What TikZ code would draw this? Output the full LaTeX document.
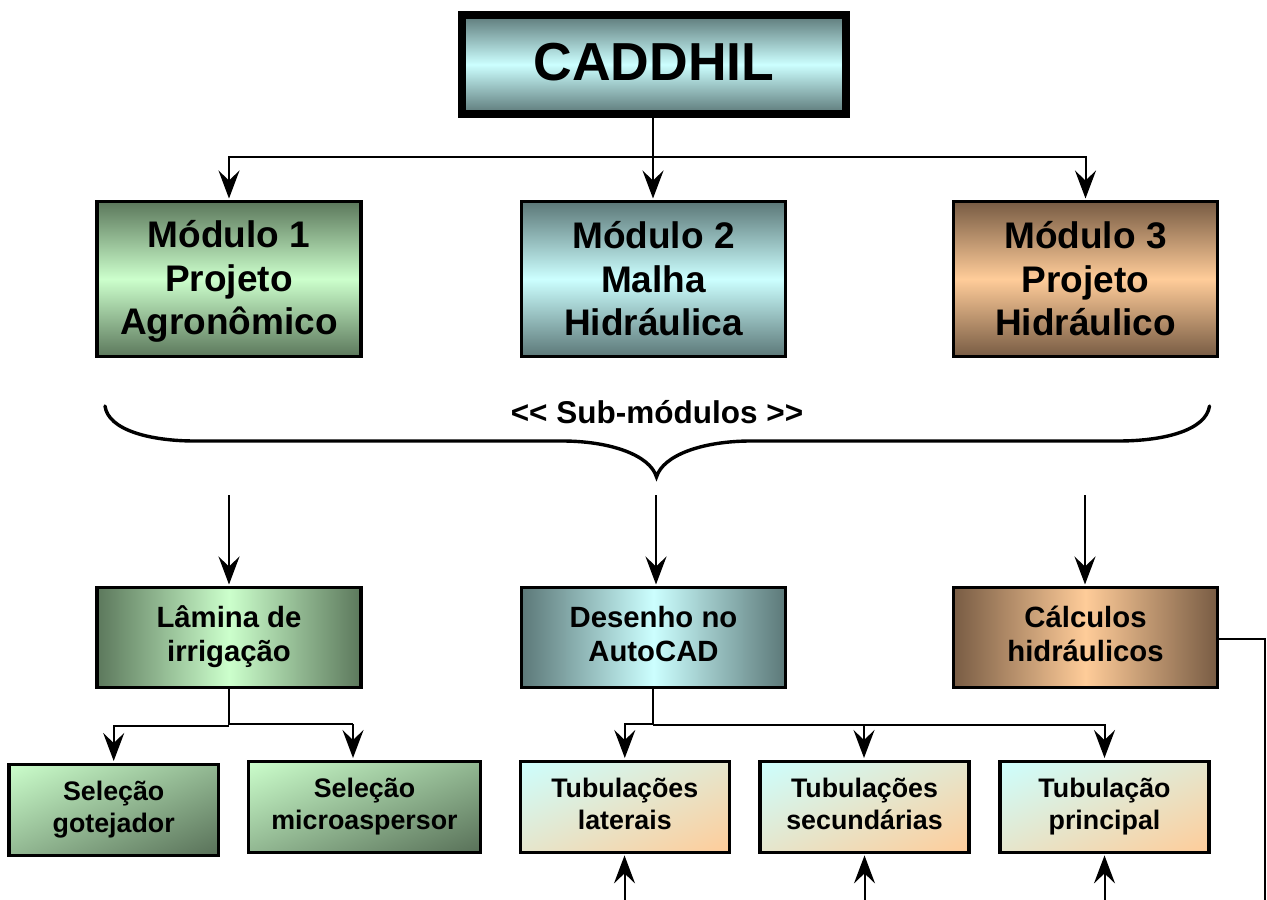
\documentclass[tikz,border=0pt]{standalone}
\usepackage{fontspec}
\setmainfont{Liberation Sans}
\usetikzlibrary{arrows.meta,calc}
\definecolor{gl}{RGB}{204,255,204}\definecolor{gd}{RGB}{92,120,92}
\definecolor{tl}{RGB}{204,255,255}\definecolor{td}{RGB}{92,120,120}
\definecolor{ol}{RGB}{255,204,153}\definecolor{od}{RGB}{120,92,68}
\definecolor{dgd}{RGB}{88,112,88}
\pgfdeclareverticalshading{diagGs}{142bp}{color(0bp)=(dgd); color(142bp)=(gl)}
\pgfdeclareverticalshading{diagTs}{142bp}{color(0bp)=(ol); color(142bp)=(tl)}
\newcommand\modT{\vrule height 32.4pt width 0pt\relax}
\newcommand\modB{\vrule depth 5.5pt width 0pt\relax}
\newcommand\subT{\vrule height 24pt width 0pt\relax}
\newcommand\subB{\vrule depth 10.5pt width 0pt\relax}
\newcommand\leafT{\vrule height 22pt width 0pt\relax}
\newcommand\leafB{\vrule depth 8.5pt width 0pt\relax}
% diagonal corner-to-corner fill: shading name, centre x, centre y, width, height
\newcommand\diagfill[5]{%
  \begin{scope}
  \clip (#2-#4/2,#3-#5/2) rectangle (#2+#4/2,#3+#5/2);
  \begin{scope}[transform canvas={shift={(#2,#3)},xscale=#4/100,yscale=#5/100,rotate=45}]
  \node[inner sep=0pt,outer sep=0pt] {\pgfuseshading{#1}};
  \end{scope}
  \end{scope}}
\tikzset{
 boxbase/.style={draw=black,inner sep=0pt,align=center,text=black,font=\bfseries},
 modbox/.style={boxbase,line width=3.4pt,minimum width=264pt,minimum height=154.6pt,font=\fontsize{37}{43.5}\selectfont\bfseries},
 subbox/.style={boxbase,line width=3.4pt,minimum width=264pt,minimum height=99.6pt,font=\fontsize{29.3}{34.5}\selectfont\bfseries},
 leafbox/.style={boxbase,line width=3.4pt,minimum height=91pt,font=\fontsize{26.8}{31.5}\selectfont\bfseries},
 conn/.style={line width=2pt,draw=black},
 tip/.style={-{Stealth[length=28pt,width=21pt,inset=10pt]},shorten >=1.5pt},
}
\begin{document}
\begin{tikzpicture}[x=1pt,y=-1pt]
\useasboundingbox (0,0) rectangle (1267,900);
% top
\node[boxbase,line width=8pt,minimum width=384pt,minimum height=99pt,
  top color=td,bottom color=td,middle color=tl,font=\fontsize{53.5}{60}\selectfont\bfseries] (cad) at (654,64.5) {CADDHIL\vrule depth 6pt width 0pt\relax};
% modules
\node[modbox,top color=gd,bottom color=gd,middle color=gl] (m1) at (229,279) {\modT Módulo 1\\Projeto\\Agronômico\modB};
\node[modbox,top color=td,bottom color=td,middle color=tl] (m2) at (653.5,279) {\modT Módulo 2\\Malha\\Hidráulica\modB};
\node[modbox,top color=od,bottom color=od,middle color=ol] (m3) at (1085.5,279) {\modT Módulo 3\\Projeto\\Hidráulico\modB};
% sub-modules label and brace
\node[inner sep=0pt,font=\fontsize{31.5}{36}\selectfont\bfseries] (lab) at (657,412) {<\kern0pt< Sub-módulos >\kern0pt>};
\draw[line width=3.4pt,line cap=round] (105,406) .. controls (108,430) and (150,441) .. (195,441)
  -- (562,441) .. controls (610,441) and (650,455) .. (656.5,477)
  .. controls (663,455) and (703,441) .. (751,441) -- (1118,441)
  .. controls (1165,441) and (1206,430) .. (1209.5,406);
% row 2
\node[subbox,left color=gd,right color=gd,middle color=gl] (lam) at (229,637.5) {\subT Lâmina de\\irrigação\subB};
\node[subbox,left color=td,right color=td,middle color=tl] (des) at (653.5,637.5) {\subT Desenho no\\AutoCAD\subB};
\node[subbox,left color=od,right color=od,middle color=ol] (calc) at (1085.5,637.5) {\subT Cálculos\\hidráulicos\subB};
% leaves
\diagfill{diagGs}{113.7}{809.7}{209.5}{91}
\diagfill{diagGs}{364.5}{806.7}{232.2}{91}
\diagfill{diagTs}{624.8}{806.7}{209}{91}
\diagfill{diagTs}{864.5}{806.7}{209}{91}
\diagfill{diagTs}{1104.5}{806.7}{209}{91}
\node[leafbox,minimum width=209.5pt] (got) at (113.7,809.7) {\leafT Seleção\\gotejador\leafB};
\node[leafbox,minimum width=232.2pt] (mic) at (364.5,806.7) {\leafT Seleção\\microaspersor\leafB};
\node[leafbox,minimum width=209pt] (lat) at (624.8,806.7) {\leafT Tubulações\\laterais\leafB};
\node[leafbox,minimum width=209pt] (sec) at (864.5,806.7) {\leafT Tubulações\\secundárias\leafB};
\node[leafbox,minimum width=209pt] (pri) at (1104.5,806.7) {\leafT Tubulação\\principal\leafB};
% top connectors
\coordinate (j0) at (653,157);
\draw[conn] (cad.south -| j0) -- (j0);
\draw[conn,tip] (j0) -| (m1.north);
\draw[conn,tip] (j0) -- (j0 |- m2.north);
\draw[conn,tip] (j0) -| (m3.north);
% brace to row 2
\coordinate (s1) at (229,495);\coordinate (s2) at (656,495);\coordinate (s3) at (1085,495);
\draw[conn,tip] (s1) -- (s1 |- lam.north);
\draw[conn,tip] (s2) -- (s2 |- des.north);
\draw[conn,tip] (s3) -- (s3 |- calc.north);
% row 2 to leaves
\coordinate (ja) at (229,725);\coordinate (jl) at (229,725.5);\coordinate (jr) at (229,724);\coordinate (jm) at (353,724);
\draw[conn] (lam.south) -- (ja);
\draw[conn,tip] (jl) -| (got.north);
\draw[conn] (jr) -- (jm);
\draw[conn,tip] (jm) -- (jm |- mic.north);
\coordinate (jb) at (653,725);\coordinate (jc) at (653,724);\coordinate (jd) at (864,725);
\draw[conn,line width=2.4pt] (des.south -| jb) -- (jb);
\draw[conn,tip] (jc) -| (lat.north);
\draw[conn,line width=2.4pt] (jb) -- (jd);
\draw[conn,tip] (jd) -- (jd |- sec.north);
\draw[conn,tip] (jd) -| (pri.north);
% bottom arrows
\coordinate (b1) at (624.5,900);\coordinate (b2) at (864.5,900);\coordinate (b3) at (1104.5,900);
\draw[conn,tip] (b1) -- (b1 |- lat.south);
\draw[conn,tip] (b2) -- (b2 |- sec.south);
\draw[conn,tip] (b3) -- (b3 |- pri.south);
% calc exit
\coordinate (c1) at (1265,638.5);\coordinate (c2) at (1265,900);
\draw[conn] (calc.east |- c1) -- (c1) -- (c2);
\end{tikzpicture}
\end{document}
